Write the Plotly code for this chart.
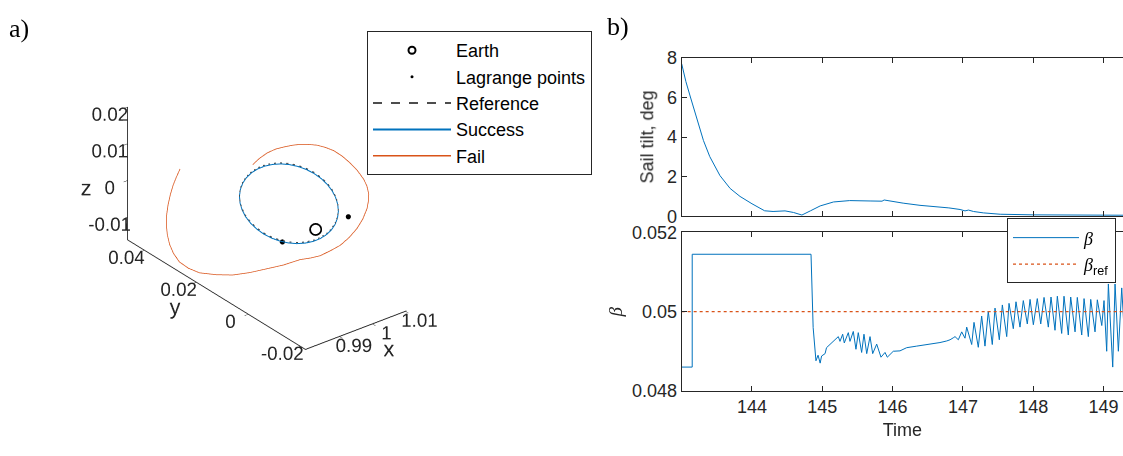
import plotly.graph_objects as go

# ---------------- a) trajectories in the rotating frame ----------------
earth = dict(x=[1.0], y=[0.0], z=[0.0])
lagrange = dict(x=[0.99, 1.01], y=[0.0, 0.0], z=[0.0, 0.0])

ref_x = [0.99970, 0.99958, 0.99924, 0.99867, 0.99790, 0.99695, 0.99585, 0.99463, 0.99334,
         0.99200, 0.99066, 0.98937, 0.98815, 0.98705, 0.98610, 0.98533, 0.98476, 0.98442,
         0.98430, 0.98442, 0.98476, 0.98533, 0.98610, 0.98705, 0.98815, 0.98937, 0.99066,
         0.99200, 0.99334, 0.99463, 0.99585, 0.99695, 0.99790, 0.99867, 0.99924, 0.99958, 0.99970]
ref_y = [0.0, 0.00284, 0.00559, 0.00818, 0.01051, 0.01252, 0.01416, 0.01536, 0.01610,
         0.01635, 0.01610, 0.01536, 0.01416, 0.01252, 0.01051, 0.00818, 0.00559, 0.00284,
         0.0, -0.00284, -0.00559, -0.00818, -0.01051, -0.01252, -0.01416, -0.01536, -0.01610,
         -0.01635, -0.01610, -0.01536, -0.01416, -0.01252, -0.01051, -0.00818, -0.00559, -0.00284, 0.0]
ref_z = [0.01556, 0.01548, 0.01522, 0.01481, 0.01426, 0.01357, 0.01278, 0.01190, 0.01097,
         0.01000, 0.00903, 0.00810, 0.00722, 0.00643, 0.00574, 0.00519, 0.00478, 0.00452,
         0.00444, 0.00452, 0.00478, 0.00519, 0.00574, 0.00643, 0.00722, 0.00810, 0.00903,
         0.01000, 0.01097, 0.01190, 0.01278, 0.01357, 0.01426, 0.01481, 0.01522, 0.01548, 0.01556]

ok_x = ref_x
ok_y = ref_y
ok_z = [0.01526, 0.01518, 0.01492, 0.01451, 0.01396, 0.01327, 0.01248, 0.01160, 0.01067,
        0.00970, 0.00873, 0.00780, 0.00692, 0.00613, 0.00544, 0.00489, 0.00448, 0.00422,
        0.00414, 0.00422, 0.00448, 0.00489, 0.00544, 0.00613, 0.00692, 0.00780, 0.00873,
        0.00970, 0.01067, 0.01160, 0.01248, 0.01327, 0.01396, 0.01451, 0.01492, 0.01518, 0.01526]

fail_x = [0.99464, 0.99640, 0.99811, 0.99962, 1.00084, 1.00197, 1.00302, 1.00383, 1.00460,
          1.00508, 1.00541, 1.00535, 1.00501, 1.00450, 1.00370, 1.00289, 1.00176, 1.00049,
          0.99911, 0.99746, 0.99579, 0.99374, 0.99176, 0.99007, 0.98849, 0.98759, 0.98684,
          0.98527, 0.98399, 0.98324, 0.98272, 0.98212, 0.98179, 0.98169, 0.98209, 0.98262,
          0.98350, 0.98437, 0.98539, 0.98654, 0.98779, 0.98916, 0.99059, 0.99172, 0.99288]
fail_y = [0.01728, 0.01694, 0.01614, 0.01486, 0.01321, 0.01149, 0.00955, 0.00750, 0.00515,
          0.00257, -0.00023, -0.00365, -0.00714, -0.01050, -0.01395, -0.01620, -0.01833, -0.01982,
          -0.02106, -0.02153, -0.02139, -0.02100, -0.02006, -0.01835, -0.01651, -0.01378, -0.01087,
          -0.00639, -0.00160, 0.00394, 0.00976, 0.01543, 0.02146, 0.02557, 0.02955, 0.03252,
          0.03517, 0.03715, 0.03881, 0.04013, 0.04120, 0.04208, 0.04278, 0.04297, 0.04308]
fail_z = [0.01191, 0.01318, 0.01441, 0.01550, 0.01638, 0.01720, 0.01796, 0.01854, 0.01910,
          0.01945, 0.01968, 0.01964, 0.01940, 0.01902, 0.01845, 0.01786, 0.01704, 0.01613,
          0.01514, 0.01306, 0.01098, 0.00906, 0.00719, 0.00553, 0.00394, 0.00241, 0.00099,
          -0.00191, -0.00459, -0.00777, -0.01079, -0.01298, -0.01498, -0.01550, -0.01565, -0.01482,
          -0.01375, -0.01224, -0.01063, -0.00891, -0.00712, -0.00526, -0.00335, -0.00165, 0.00007]

x_ticks = [0.99, 1.0, 1.01]
x_labels = ["0.99", "1", "1.01"]
y_ticks = [-0.02, 0.0, 0.02, 0.04]
y_labels = ["-0.02", "0", "0.02", "0.04"]
z_ticks = [-0.01, 0.0, 0.01, 0.02]
z_labels = ["-0.01", "0", "0.01", "0.02"]

# ---------------- b) sail tilt and lightness number ----------------
tilt_t = [143.00, 143.06, 143.12, 143.21, 143.31, 143.40, 143.545, 143.69, 143.83, 144.00,
          144.10, 144.18, 144.30, 144.40, 144.47, 144.59, 144.71, 144.83, 144.97, 145.16,
          145.39, 145.68, 145.82, 145.85, 145.88, 145.95, 146.15, 146.39, 146.58, 146.80,
          146.96, 147.03, 147.08, 147.15, 147.29, 147.53, 148.0, 148.5, 149.0, 149.3]
tilt_deg = [7.7, 6.8, 6.07, 4.95, 3.82, 3.01, 2.05, 1.40, 1.0, 0.63,
            0.42, 0.275, 0.24, 0.25, 0.27, 0.19, 0.06, 0.27, 0.52, 0.72,
            0.79, 0.77, 0.79, 0.76, 0.82, 0.77, 0.66, 0.55, 0.5, 0.42,
            0.34, 0.27, 0.31, 0.24, 0.17, 0.1, 0.07, 0.06, 0.05, 0.05]

beta_t = [143.00, 143.15, 143.15, 144.84, 144.87, 144.91, 144.94, 144.97, 144.99, 145.04,
          145.06, 145.11, 145.16, 145.20, 145.228, 145.252, 145.290, 145.313, 145.370, 145.394,
          145.441, 145.479, 145.512, 145.560, 145.593, 145.632, 145.679, 145.717, 145.774, 145.835,
          145.892, 145.925, 146.010, 146.105, 146.200, 146.343, 146.485, 146.579, 146.674, 146.770,
          146.817, 146.863, 146.888, 146.935, 146.983, 147.030, 147.054, 147.125, 147.158, 147.219,
          147.267, 147.314, 147.361, 147.418, 147.457, 147.518, 147.561, 147.623, 147.656, 147.717,
          147.755, 147.812, 147.859, 147.916, 147.955, 148.002, 148.058, 148.107, 148.154, 148.215,
          148.253, 148.310, 148.343, 148.405, 148.438, 148.499, 148.533, 148.595, 148.627, 148.690,
          148.723, 148.784, 148.818, 148.879, 148.912, 148.975, 149.007, 149.045, 149.069, 149.131,
          149.164, 149.211, 149.259, 149.300]
beta_val = [0.04860, 0.04860, 0.05145, 0.05145, 0.04960, 0.04876, 0.04890, 0.04870, 0.04888, 0.04894,
            0.04909, 0.04917, 0.04925, 0.04933, 0.04937, 0.04925, 0.04943, 0.04921, 0.04947, 0.04925,
            0.04950, 0.04905, 0.04947, 0.04897, 0.04943, 0.04894, 0.04937, 0.04894, 0.04918, 0.04885,
            0.04897, 0.04885, 0.04900, 0.04901, 0.04909, 0.04913, 0.04917, 0.04918, 0.04922, 0.04926,
            0.04929, 0.04934, 0.04937, 0.04929, 0.04949, 0.04933, 0.04961, 0.04917, 0.04973, 0.04910,
            0.04989, 0.04913, 0.05001, 0.04917, 0.05009, 0.04929, 0.05017, 0.04937, 0.05021, 0.04957,
            0.05025, 0.04961, 0.05028, 0.04969, 0.05031, 0.04967, 0.05033, 0.04969, 0.05036, 0.04961,
            0.05037, 0.04953, 0.05039, 0.04945, 0.05039, 0.04941, 0.05037, 0.04949, 0.05036, 0.04941,
            0.05033, 0.04937, 0.05031, 0.04949, 0.05030, 0.04965, 0.05028, 0.04900, 0.05070, 0.04860,
            0.05070, 0.04900, 0.05060, 0.04930]
beta_ref = 0.05

time_ticks = [144, 145, 146, 147, 148, 149]
time_range = [143.0, 149.277]

INK = "#262626"
BLUE = "#0072BD"
ORANGE = "#D95319"
SANS = "Liberation Sans, Arial, sans-serif"
SERIF = "Liberation Serif, Times New Roman, serif"

fig = go.Figure()

# 3-D traces
fig.add_trace(go.Scatter3d(x=earth["x"], y=earth["y"], z=earth["z"], mode="markers", name="Earth",
                           marker=dict(symbol="circle-open", size=7, color="black",
                                       line=dict(color="black", width=2)),
                           legend="legend"))
fig.add_trace(go.Scatter3d(x=lagrange["x"], y=lagrange["y"], z=lagrange["z"], mode="markers",
                           name="Lagrange points", marker=dict(symbol="circle", size=3, color="black"),
                           legend="legend"))
fig.add_trace(go.Scatter3d(x=ref_x, y=ref_y, z=ref_z, mode="lines", name="Reference",
                           line=dict(color="#4d4d4d", width=2, dash="dash"), legend="legend"))
fig.add_trace(go.Scatter3d(x=ok_x, y=ok_y, z=ok_z, mode="lines", name="Success",
                           line=dict(color=BLUE, width=2), legend="legend"))
fig.add_trace(go.Scatter3d(x=fail_x, y=fail_y, z=fail_z, mode="lines", name="Fail",
                           line=dict(color=ORANGE, width=1.5), legend="legend"))

# time histories
fig.add_trace(go.Scatter(x=tilt_t, y=tilt_deg, mode="lines", line=dict(color=BLUE, width=1),
                         xaxis="x", yaxis="y", showlegend=False))
fig.add_trace(go.Scatter(x=beta_t, y=beta_val, mode="lines", line=dict(color=BLUE, width=1),
                         name='<span style="font-family:Liberation Serif"><i>β</i></span>',
                         xaxis="x2", yaxis="y2", legend="legend2"))
fig.add_trace(go.Scatter(x=time_range, y=[beta_ref, beta_ref], mode="lines",
                         line=dict(color=ORANGE, width=1.2, dash="dot"),
                         name='<span style="font-family:Liberation Serif"><i>β</i></span><sub>ref</sub>',
                         xaxis="x2", yaxis="y2", legend="legend2"))

# orthographic zoom is carried by the aspect ratio (kept proportional to the axis spans)
zoom3d = 1.467

axis3d = dict(showgrid=False, showbackground=False, zeroline=False, showline=True,
              linecolor=INK, linewidth=2, ticks="inside", ticklen=5, tickcolor=INK,
              showspikes=False, tickangle=0, tickfont=dict(size=15, color=INK, family=SANS),
              title_font=dict(size=13, color=INK, family=SANS))

time_axis = dict(range=time_range, tickvals=time_ticks, ticks="inside", ticklen=5, tickcolor=INK,
                 showline=True, linecolor=INK, linewidth=1, mirror="ticks", showgrid=False,
                 zeroline=False, tickfont=dict(size=18, color=INK, family=SANS))

title_font = dict(size=18, color=INK, family=SANS)

fig.update_layout(
    width=1123, height=456,
    margin=dict(l=0, r=0, t=0, b=0),
    paper_bgcolor="white", plot_bgcolor="white",
    font=dict(family=SANS, size=18, color=INK),
    scene=dict(
        domain=dict(x=[0.0275, 0.4475], y=[0.094, 0.994]),
        xaxis=dict(axis3d, range=[0.9797, 1.0103], tickvals=x_ticks, ticktext=x_labels, title="x"),
        yaxis=dict(axis3d, range=[-0.022, 0.0465], tickvals=y_ticks, ticktext=y_labels, title="y"),
        zaxis=dict(axis3d, range=[-0.0162, 0.02], tickvals=z_ticks, ticktext=z_labels, title="z"),
        aspectmode="manual",
        aspectratio=dict(x=0.447 * zoom3d, y=1.0 * zoom3d, z=0.528 * zoom3d),
        camera=dict(projection=dict(type="orthographic"),
                    eye=dict(x=-1.228, y=-1.560, z=1.101),
                    up=dict(x=0, y=0, z=1)),
        bgcolor="white",
    ),
    xaxis=dict(time_axis, domain=[0.607, 1.0], anchor="y", showticklabels=False),
    yaxis=dict(domain=[0.527, 0.8904], anchor="x", range=[0, 8], tickvals=[0, 2, 4, 6, 8],
               ticks="inside", ticklen=5, tickcolor=INK, showline=True, linecolor=INK,
               linewidth=1, showgrid=False, zeroline=False,
               title=dict(text="Sail tilt, deg", standoff=8, font=title_font)),
    xaxis2=dict(time_axis, domain=[0.607, 1.0], anchor="y2",
                title=dict(text="Time", standoff=6, font=title_font)),
    yaxis2=dict(domain=[0.1265, 0.4897], anchor="x2", range=[0.048, 0.052],
                tickvals=[0.048, 0.05, 0.052], ticktext=["0.048", "0.05", "0.052"],
                ticks="inside", ticklen=5, tickcolor=INK, showline=True, linecolor=INK,
                linewidth=1, showgrid=False, zeroline=False,
                title=dict(text='<i>β</i>', standoff=4,
                           font=dict(family=SERIF, size=19, color=INK))),
    yaxis3=dict(overlaying="y", side="right", anchor="x", matches="y", range=[0, 8],
                tickvals=[0, 2, 4, 6, 8], ticks="inside", ticklen=5, tickcolor=INK,
                showline=False, showticklabels=False, showgrid=False, zeroline=False),
    yaxis4=dict(overlaying="y2", side="right", anchor="x2", matches="y2",
                range=[0.048, 0.052], tickvals=[0.048, 0.05, 0.052], ticks="inside", ticklen=5,
                tickcolor=INK, showline=False, showticklabels=False, showgrid=False,
                zeroline=False),
    legend=dict(x=367 / 1123, y=1 - 22 / 456, xanchor="left", yanchor="top",
                bgcolor="white", bordercolor=INK, borderwidth=1, itemwidth=78,
                font=dict(size=18, color="black", family=SANS)),
    legend2=dict(x=1007 / 1123, y=1 - 218 / 456, xanchor="left", yanchor="top",
                 bgcolor="white", bordercolor=INK, borderwidth=1, itemwidth=66,
                 font=dict(size=18, color="black", family=SANS)),
    annotations=[
        dict(text="a)", x=7 / 1123, y=1 - 19 / 456, xref="paper", yref="paper",
             xanchor="left", yanchor="middle", showarrow=False,
             font=dict(family=SERIF, size=26, color="black")),
        dict(text="b)", x=605 / 1123, y=1 - 17 / 456, xref="paper", yref="paper",
             xanchor="left", yanchor="middle", showarrow=False,
             font=dict(family=SERIF, size=26, color="black")),
    ],
)

fig.write_html("out.html", config={"displayModeBar": False})
